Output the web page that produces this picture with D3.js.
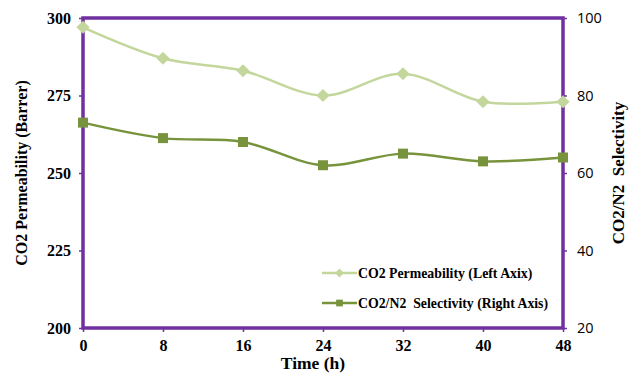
<!DOCTYPE html>
<html>
<head>
<meta charset="utf-8">
<script src="https://cdn.jsdelivr.net/npm/d3@7"></script>
<style>
  html, body { margin: 0; padding: 0; background: #fff; }
  #chart { width: 637px; height: 374px; }
</style>
</head>
<body>
<div id="chart"></div>
<script>
// -----------------------------
// DATA
// -----------------------------
const hours = [0, 8, 16, 24, 32, 40, 48];
const permeability = [297, 287, 283, 275, 282, 273, 273];   // left axis, Barrer
const selectivity = [73, 69, 68, 62, 65, 63, 64];            // right axis
const leftTicks = [200, 225, 250, 275, 300];
const rightTicks = [20, 40, 60, 80, 100];

const width = 637, height = 374;
const margin = { top: 18, right: 74, bottom: 46, left: 83 };
const plotW = width - margin.left - margin.right;
const plotH = height - margin.top - margin.bottom;

const purple = "#7030a0";
const lightGreen = "#c3d69b";
const darkGreen = "#77933c";
const serifFont = "'Liberation Serif', 'Times New Roman', Times, serif";

const svg = d3.select("#chart").append("svg")
    .attr("width", width)
    .attr("height", height);

const g = svg.append("g")
    .attr("transform", `translate(${margin.left},${margin.top})`);

function serif(sel, size) {
    return sel.style("font-family", serifFont)
        .style("font-weight", "bold")
        .style("font-size", size + "px")
        .attr("fill", "#000");
}

// -----------------------------
// SCALES
// -----------------------------
const x = d3.scaleLinear().domain([0, 48]).range([0, plotW]);
const yL = d3.scaleLinear().domain([200, 300]).range([plotH, 0]);
const yR = d3.scaleLinear().domain([20, 100]).range([plotH, 0]);

// -----------------------------
// AXES
// -----------------------------
const xAxis = g.append("g")
    .attr("transform", `translate(0,${plotH})`)
    .call(d3.axisBottom(x).tickValues(hours).tickSize(4).tickPadding(8));

const leftAxis = g.append("g")
    .call(d3.axisLeft(yL).tickValues(leftTicks).tickSize(4).tickPadding(8));

const rightAxis = g.append("g")
    .attr("transform", `translate(${plotW},0)`)
    .call(d3.axisRight(yR).tickValues(rightTicks).tickSize(4).tickPadding(10));

[xAxis, leftAxis, rightAxis].forEach(a => {
    a.select(".domain").remove();
    a.selectAll(".tick line").attr("stroke", purple).attr("stroke-width", 1.5);
});

serif(xAxis.selectAll("text"), 16);
serif(leftAxis.selectAll("text"), 16);
rightAxis.selectAll("text")
    .style("font-family", "'Open Sans', 'Liberation Sans', sans-serif")
    .style("font-size", "14.5px")
    .attr("fill", "#000");

// frame
g.append("rect")
    .attr("x", 0).attr("y", 0)
    .attr("width", plotW).attr("height", plotH)
    .attr("fill", "none")
    .attr("stroke", purple)
    .attr("stroke-width", 3.5);

// -----------------------------
// AXIS TITLES
// -----------------------------
serif(svg.append("text"), 16)
    .attr("transform", `translate(27,${margin.top + plotH / 2}) rotate(-90)`)
    .attr("text-anchor", "middle")
    .text("CO2 Permeability (Barrer)");

serif(svg.append("text"), 17)
    .attr("transform", `translate(624,${margin.top + plotH / 2}) rotate(-90)`)
    .attr("text-anchor", "middle")
    .style("white-space", "pre")
    .text("CO2/N2  Selectivity");

serif(svg.append("text"), 17.5)
    .attr("x", 313)
    .attr("y", 369)
    .attr("text-anchor", "middle")
    .text("Time (h)");

// -----------------------------
// LINES + MARKERS
// -----------------------------
const curve = d3.curveCardinal.tension(0);

const permData = hours.map((h, i) => ({ h, v: permeability[i] }));
const selData = hours.map((h, i) => ({ h, v: selectivity[i] }));

g.append("path")
    .datum(permData)
    .attr("fill", "none")
    .attr("stroke", lightGreen)
    .attr("stroke-width", 2.5)
    .attr("d", d3.line().x(d => x(d.h)).y(d => yL(d.v)).curve(curve));

g.append("path")
    .datum(selData)
    .attr("fill", "none")
    .attr("stroke", darkGreen)
    .attr("stroke-width", 2.5)
    .attr("d", d3.line().x(d => x(d.h)).y(d => yR(d.v)).curve(curve));

const diamond = d3.symbol().type(d3.symbolDiamond2).size(110);
const square = d3.symbol().type(d3.symbolSquare).size(100);

g.selectAll(".perm-pt")
    .data(permData)
    .enter().append("path")
    .attr("class", "perm-pt")
    .attr("transform", d => `translate(${x(d.h)},${yL(d.v)})`)
    .attr("d", diamond)
    .attr("fill", lightGreen);

g.selectAll(".sel-pt")
    .data(selData)
    .enter().append("path")
    .attr("class", "sel-pt")
    .attr("transform", d => `translate(${x(d.h)},${yR(d.v)})`)
    .attr("d", square)
    .attr("fill", darkGreen);

// -----------------------------
// LEGEND
// -----------------------------
const legendItems = [
    { label: "CO2 Permeability (Left Axix)", color: lightGreen, sym: d3.symbol().type(d3.symbolDiamond2).size(50) },
    { label: "CO2/N2  Selectivity (Right Axis)", color: darkGreen, sym: d3.symbol().type(d3.symbolSquare).size(45) }
];

const legend = svg.append("g").attr("transform", "translate(322,273)");

legendItems.forEach((d, i) => {
    const row = legend.append("g").attr("transform", `translate(0,${i * 30})`);
    row.append("line")
        .attr("x1", 0).attr("x2", 35)
        .attr("stroke", d.color).attr("stroke-width", 2.5);
    row.append("path")
        .attr("transform", "translate(17.5,0)")
        .attr("d", d.sym)
        .attr("fill", d.color);
    serif(row.append("text"), 13.8)
        .attr("x", 36)
        .attr("dy", "0.35em")
        .style("white-space", "pre")
        .text(d.label);
});
</script>
</body>
</html>
